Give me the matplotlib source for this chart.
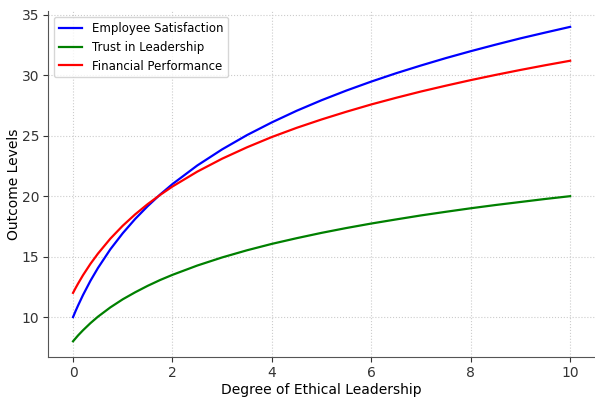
import matplotlib
matplotlib.use("Agg")
import matplotlib.pyplot as plt

x_vals = [0, 0.05, 0.1, 0.2, 0.35, 0.5, 0.75, 1, 1.25, 1.5, 1.75, 2, 2.5, 3, 3.5, 4, 4.5,
          5, 5.5, 6, 6.5, 7, 7.5, 8, 8.5, 9, 9.5, 10]
employee_satisfaction = [10.0, 10.49, 10.95, 11.82, 13.0, 14.05, 15.6, 16.93, 18.11, 19.16, 20.12,
                         20.99, 22.53, 23.86, 25.04, 26.09, 27.05, 27.92, 28.72, 29.46, 30.15,
                         30.79, 31.4, 31.97, 32.51, 33.03, 33.51, 33.98]
trust_in_leadership = [8.0, 8.24, 8.48, 8.91, 9.5, 10.03, 10.8, 11.47, 12.05, 12.58, 13.06,
                       13.49, 14.26, 14.93, 15.52, 16.05, 16.52, 16.96, 17.36, 17.73, 18.07,
                       18.4, 18.7, 18.99, 19.26, 19.51, 19.76, 19.99]
financial_performance = [12.0, 12.39, 12.76, 13.46, 14.4, 15.24, 16.48, 17.55, 18.49, 19.33, 20.09,
                         20.79, 22.02, 23.09, 24.03, 24.88, 25.64, 26.33, 26.97, 27.57, 28.12,
                         28.64, 29.12, 29.58, 30.01, 30.42, 30.81, 31.18]

fig = plt.figure(figsize=(5.95, 3.98), dpi=100)
ax = fig.add_axes([0.081, 0.103, 0.919, 0.869])

ax.plot(x_vals, employee_satisfaction, color="blue", lw=1.6, label="Employee Satisfaction")
ax.plot(x_vals, trust_in_leadership, color="green", lw=1.6, label="Trust in Leadership")
ax.plot(x_vals, financial_performance, color="red", lw=1.6, label="Financial Performance")

ax.set_xlabel("Degree of Ethical Leadership", fontsize=10, labelpad=2)
ax.set_ylabel("Outcome Levels", fontsize=10)
ax.yaxis.set_label_coords(-0.05, 0.5)
ax.grid(True, linestyle=":", color="#cccccc", linewidth=0.8)
for s in ["top", "right"]:
    ax.spines[s].set_visible(False)
for s in ["left", "bottom"]:
    ax.spines[s].set_color("#555555")
ax.tick_params(labelsize=10, colors="#333333", pad=3)
ax.set_xticks([0, 2, 4, 6, 8, 10])
ax.legend(loc="upper left", fontsize=8.5)

fig.savefig("out.png", dpi=100)
